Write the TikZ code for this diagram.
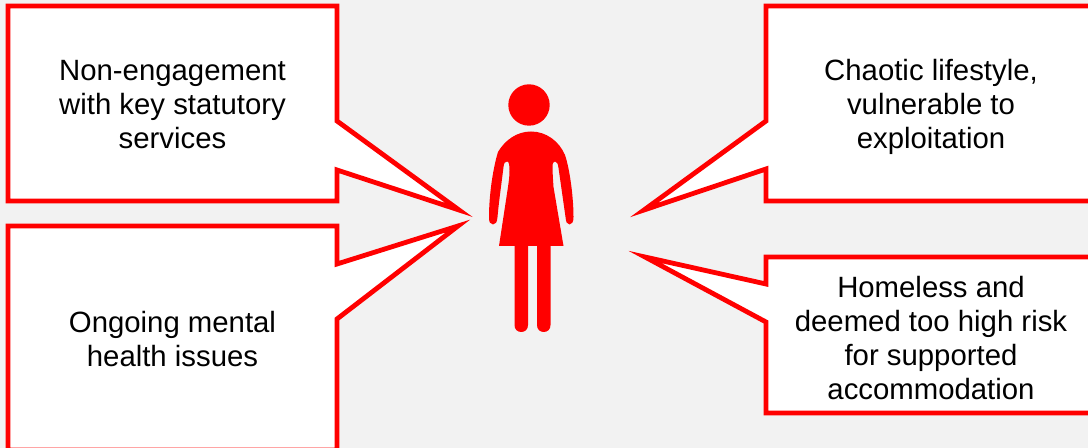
\documentclass[tikz,border=0pt]{standalone}
\usepackage{fontspec}
\setmainfont{Liberation Sans}
\definecolor{myRed}{HTML}{FF0000}
\definecolor{mGray}{HTML}{F2F2F2}

\begin{document}
\begin{tikzpicture}[
  x=0.75pt, y=-0.75pt,
  callout/.style={draw=myRed, fill=white, line width=3.6pt, miter limit=10},
  issue/.style={align=center, inner sep=0pt, text=black,
                font=\fontsize{22}{25.5}\selectfont},
  figure/.style={fill=myRed, draw=none},
]
  \useasboundingbox (0,0) rectangle (1088,448);
  \fill[mGray] (0,0) rectangle (1088,448);

  % left callouts
  \draw[callout] (8,6) -- (337,6) -- (337,121) -- (459,210) -- (337,170)
    -- (337,201) -- (8,201) -- cycle;
  \draw[callout] (8,226) -- (337,226) -- (337,264) -- (458,226) -- (337,319)
    -- (337,450) -- (8,450) -- cycle;

  % right callouts
  \draw[callout] (766,6) -- (1095,6) -- (1095,201) -- (766,201) -- (766,169)
    -- (644,210) -- (766,121) -- cycle;
  \draw[callout] (766,257) -- (1095,257) -- (1095,413) -- (766,413) -- (766,322)
    -- (645,257) -- (766,284) -- cycle;

  \node[issue] (engage) at (172.5,105) {Non-engagement\\with key statutory\\services};
  \node[issue] (mental) at (172.5,339) {Ongoing mental\\health issues};
  \node[issue] (chaos) at (931,106.5) {Chaotic lifestyle,\\vulnerable to\\exploitation};
  \node[issue] (homeless) at (931,337.8) {Homeless and\\deemed too high risk\\for supported\\accommodation};

  % woman
  \fill[figure] (529,105) circle (20.7);
  \fill[figure] (531,131.5) .. controls (517,131.5) and (505,140) .. (498,152)
    .. controls (493,168) and (489,195) .. (489,217)
    .. controls (489,222) and (490,224.5) .. (493,224.5)
    .. controls (496,224.5) and (497,222) .. (497.5,217)
    .. controls (499,200) and (502,180) .. (503.5,167)
    .. controls (504,163) and (505,161.5) .. (507,161.5)
    .. controls (509,161.5) and (509.5,165) .. (509.5,170)
    .. controls (509.5,178) and (508.5,183) .. (508,187)
    -- (499,246) -- (563.5,246) -- (553.5,187)
    .. controls (553,180) and (552.5,172) .. (552.5,167)
    .. controls (552.5,163) and (553.5,161.5) .. (555,161.5)
    .. controls (557,161.5) and (558,164) .. (558.5,168)
    -- (565.5,217)
    .. controls (566,222) and (567,224.5) .. (569.5,224.5)
    .. controls (572,224.5) and (573.5,222) .. (573.5,217)
    .. controls (573.5,198) and (570,170) .. (565,155)
    .. controls (559,141) and (546,131.5) .. (531,131.5) -- cycle;
  \fill[figure] (514.5,240) -- (528,240) -- (528,325)
    .. controls (528,329.5) and (525,332) .. (521.2,332)
    .. controls (517.5,332) and (514.5,329.5) .. (514.5,325) -- cycle;
  \fill[figure] (537,240) -- (550.5,240) -- (550.5,325)
    .. controls (550.5,329.5) and (547.5,332) .. (543.7,332)
    .. controls (540,332) and (537,329.5) .. (537,325) -- cycle;
\end{tikzpicture}
\end{document}
